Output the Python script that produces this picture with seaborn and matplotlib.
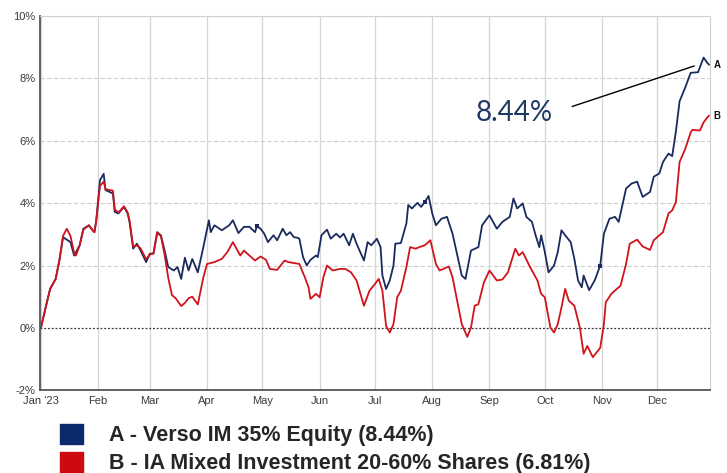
import numpy as np
import pandas as pd
import matplotlib
matplotlib.use("Agg")
import matplotlib.pyplot as plt
from matplotlib.patches import Patch
import seaborn as sns

# fund A (navy) - cumulative return in %
dates_a = ["01-01", "01-04", "01-06", "01-09", "01-11", "01-13", "01-17", "01-19", "01-22", "01-24",
           "01-27", "01-29", "01-30", "01-31", "02-02", "02-04", "02-05", "02-09", "02-10", "02-12",
           "02-15", "02-17", "02-18", "02-20", "02-22", "02-24", "02-27", "03-01", "03-03", "03-05",
           "03-07", "03-09", "03-11", "03-14", "03-16", "03-18", "03-20", "03-22", "03-24", "03-27",
           "03-30", "04-02", "04-03", "04-05", "04-09", "04-13", "04-15", "04-18", "04-21", "04-24",
           "04-27", "04-28", "04-30", "05-02", "05-04", "05-07", "05-09", "05-12", "05-14", "05-16",
           "05-18", "05-20", "05-21", "05-23", "05-25", "05-27", "05-30", "05-31", "06-02", "06-05",
           "06-07", "06-10", "06-12", "06-14", "06-17", "06-19", "06-21", "06-25", "06-27", "06-29",
           "07-02", "07-04", "07-05", "07-07", "07-09", "07-11", "07-12", "07-15", "07-18", "07-19",
           "07-21", "07-24", "07-26", "07-28", "07-30", "08-01", "08-03", "08-06", "08-09", "08-12",
           "08-17", "08-19", "08-22", "08-26", "08-28", "09-01", "09-05", "09-08", "09-12", "09-14",
           "09-16", "09-19", "09-21", "09-24", "09-26", "09-28", "09-29", "10-01", "10-03", "10-06",
           "10-08", "10-10", "10-12", "10-15", "10-17", "10-19", "10-21", "10-22", "10-25", "10-28",
           "10-31", "11-02", "11-03", "11-05", "11-08", "11-10", "11-14", "11-17", "11-20", "11-23",
           "11-27", "11-29", "12-02", "12-04", "12-07", "12-09", "12-11", "12-13", "12-16", "12-19",
           "12-23", "12-26", "12-28", "12-29"]
values_a = [0.00, 0.76, 1.25, 1.57, 2.16, 2.91, 2.75, 2.32, 2.65, 3.18,
            3.29, 3.13, 3.07, 3.45, 4.74, 4.94, 4.42, 4.31, 3.72, 3.67,
            3.88, 3.67, 3.40, 2.54, 2.70, 2.48, 2.11, 2.38, 2.38, 3.07,
            2.97, 2.48, 1.95, 1.84, 1.95, 1.57, 2.25, 1.84, 2.21, 1.78,
            2.59, 3.45, 3.07, 3.29, 3.13, 3.29, 3.45, 3.04, 3.24, 3.24,
            3.07, 3.26, 3.18, 3.02, 2.75, 2.97, 2.81, 3.18, 2.97, 3.07,
            2.91, 2.89, 2.86, 2.27, 2.00, 2.18, 2.32, 2.27, 2.97, 3.15,
            2.86, 3.02, 2.90, 3.02, 2.65, 3.02, 2.70, 2.16, 2.75, 2.65,
            2.86, 2.59, 1.68, 1.25, 1.52, 2.00, 2.70, 2.72, 3.35, 3.94,
            3.83, 4.01, 3.88, 4.04, 4.23, 3.67, 3.29, 3.50, 3.56, 3.02,
            1.68, 1.57, 2.48, 2.59, 3.29, 3.61, 3.18, 3.40, 3.56, 4.15,
            3.83, 3.99, 3.56, 3.40, 2.97, 2.59, 2.97, 2.43, 1.78, 2.00,
            2.43, 3.13, 2.97, 2.75, 2.21, 1.52, 1.30, 1.68, 1.21, 1.52,
            2.00, 3.02, 3.18, 3.50, 3.56, 3.40, 4.47, 4.63, 4.69, 4.20,
            4.36, 4.85, 4.95, 5.32, 5.59, 5.51, 6.30, 7.27, 7.70, 8.18,
            8.20, 8.67, 8.50, 8.44]
# small markers sitting on line A
marker_dates_a = ["04-28", "07-28", "10-31"]

# sector B (red)
dates_b = ["01-01", "01-04", "01-06", "01-09", "01-11", "01-13", "01-15", "01-17", "01-19", "01-20",
           "01-22", "01-24", "01-27", "01-29", "01-30", "01-31", "02-02", "02-04", "02-05", "02-09",
           "02-10", "02-12", "02-15", "02-17", "02-18", "02-20", "02-22", "02-24", "02-27", "03-01",
           "03-03", "03-05", "03-07", "03-09", "03-11", "03-13", "03-15", "03-18", "03-20", "03-22",
           "03-24", "03-27", "03-30", "04-01", "04-05", "04-09", "04-12", "04-15", "04-19", "04-21",
           "04-24", "04-27", "04-30", "05-03", "05-05", "05-09", "05-13", "05-15", "05-21", "05-24",
           "05-26", "05-27", "05-30", "06-01", "06-03", "06-05", "06-08", "06-12", "06-15", "06-18",
           "06-21", "06-25", "06-28", "07-01", "07-03", "07-05", "07-07", "07-09", "07-11", "07-13",
           "07-15", "07-18", "07-20", "07-23", "07-25", "07-28", "07-31", "08-03", "08-05", "08-07",
           "08-10", "08-12", "08-17", "08-20", "08-22", "08-24", "08-26", "08-29", "09-01", "09-05",
           "09-08", "09-11", "09-15", "09-17", "09-19", "09-23", "09-27", "09-29", "10-01", "10-04",
           "10-06", "10-08", "10-10", "10-12", "10-14", "10-17", "10-20", "10-22", "10-24", "10-27",
           "10-31", "11-02", "11-03", "11-06", "11-09", "11-11", "11-14", "11-16", "11-20", "11-23",
           "11-27", "11-29", "12-04", "12-07", "12-09", "12-11", "12-13", "12-16", "12-19", "12-20",
           "12-24", "12-26", "12-28", "12-29"]
values_b = [0.00, 0.76, 1.25, 1.57, 2.16, 2.95, 3.18, 2.95, 2.40, 2.32,
            2.65, 3.15, 3.29, 3.13, 3.07, 3.45, 4.55, 4.69, 4.45, 4.40,
            3.80, 3.70, 3.90, 3.70, 3.45, 2.60, 2.65, 2.55, 2.20, 2.35,
            2.40, 3.05, 2.95, 2.35, 1.60, 1.05, 0.95, 0.70, 0.80, 0.95,
            1.00, 0.75, 1.62, 2.05, 2.11, 2.21, 2.43, 2.75, 2.32, 2.48,
            2.32, 2.16, 2.29, 2.18, 1.89, 1.86, 2.16, 2.11, 2.05, 1.62,
            1.30, 0.93, 1.09, 0.98, 1.62, 2.00, 1.84, 1.89, 1.89, 1.78,
            1.52, 0.71, 1.19, 1.41, 1.57, 1.19, 0.06, -0.15, 0.12, 0.98,
            1.19, 1.95, 2.59, 2.54, 2.59, 2.65, 2.81, 2.05, 1.84, 1.89,
            1.97, 1.62, 0.12, -0.29, 0.01, 0.71, 0.76, 1.46, 1.84, 1.52,
            1.55, 1.78, 2.54, 2.32, 2.43, 1.95, 1.52, 1.09, 0.98, 0.01,
            -0.15, 0.12, 0.65, 1.25, 0.87, 0.71, 0.00, -0.83, -0.58, -0.94,
            -0.64, 0.12, 0.82, 1.09, 1.25, 1.35, 2.05, 2.70, 2.83, 2.61,
            2.50, 2.81, 3.07, 3.67, 3.77, 4.04, 5.32, 5.73, 6.27, 6.35,
            6.33, 6.59, 6.75, 6.81]

series_names = ["A - Verso IM 35% Equity (8.44%)",
                "B - IA Mixed Investment 20-60% Shares (6.81%)"]
series_tags = ["A", "B"]
month_labels = ["Jan '23", "Feb", "Mar", "Apr", "May", "Jun",
                "Jul", "Aug", "Sep", "Oct", "Nov", "Dec"]
y_ticks = [-2, 0, 2, 4, 6, 8, 10]
callout_text = "8.44%"

colors = ["#1b2a5e", "#d0141c"]
legend_colors = ["#0b2a6c", "#cc0a10"]

df = pd.concat([
    pd.DataFrame({"date": pd.to_datetime(["2023-" + d for d in dates_a]),
                  "value": values_a, "fund": series_tags[0]}),
    pd.DataFrame({"date": pd.to_datetime(["2023-" + d for d in dates_b]),
                  "value": values_b, "fund": series_tags[1]}),
], ignore_index=True)

sns.set_style("white")
plt.rcParams["font.family"] = ["Liberation Sans", "DejaVu Sans"]

fig = plt.figure(figsize=(7.27, 4.73), dpi=100)
ax = fig.add_axes([0.055, 0.175, 0.922, 0.791])

sns.lineplot(data=df, x="date", y="value", hue="fund", palette=colors,
             linewidth=1.3, legend=False, ax=ax)

mk = df[(df["fund"] == series_tags[0]) &
        df["date"].isin(pd.to_datetime(["2023-" + d for d in marker_dates_a]))]
sns.scatterplot(data=mk, x="date", y="value", color=colors[0], s=9,
                marker="s", linewidth=0, legend=False, ax=ax, zorder=3)

# axes
ax.set_xlim(pd.Timestamp("2022-12-31 12:00"), pd.Timestamp("2023-12-29 15:00"))
ax.set_ylim(-2, 10)
month_starts = pd.date_range("2023-01-01", periods=12, freq="MS")
ax.set_xticks(month_starts)
ax.set_xticklabels(month_labels)
ax.set_yticks(y_ticks)
ax.set_yticklabels([f"{v}%" for v in y_ticks])
ax.set_xlabel("")
ax.set_ylabel("")
ax.tick_params(axis="both", labelsize=8, colors="#3a3a3a", pad=1)
ax.tick_params(axis="x", length=3, color="#888888")
ax.tick_params(axis="y", length=0, pad=3)

for x in month_starts:
    ax.axvline(x, color="#d6d6d6", lw=0.9, zorder=0)
for v in y_ticks[2:]:
    ax.axhline(v, color="#cfcfcf", lw=0.8, ls=(0, (4, 2)), zorder=0)
ax.axhline(0, color="#333344", lw=0.9, ls=(0, (1.5, 1.5)), zorder=1)

for s in ["top", "right"]:
    ax.spines[s].set_color("#d0d0d0")
    ax.spines[s].set_linewidth(0.8)
for s in ["left", "bottom"]:
    ax.spines[s].set_color("#555555")
    ax.spines[s].set_linewidth(1.3)

# end labels A / B
for tag, d, v in [(series_tags[0], dates_a[-1], values_a[-1]),
                  (series_tags[1], dates_b[-1], values_b[-1])]:
    ax.annotate(tag, xy=(pd.Timestamp("2023-" + d), v), xytext=(3, 0),
                textcoords="offset points", fontsize=7, fontweight="bold",
                va="center", ha="left", color="#111111", annotation_clip=False)

# call-out
ax.text(0.707, 0.741, callout_text, transform=ax.transAxes, fontsize=20,
        color="#1f3864", ha="center", va="center", family="Lato")
ax.annotate("", xy=(0.980, 0.869), xytext=(0.790, 0.756),
            xycoords="axes fraction", textcoords="axes fraction",
            arrowprops=dict(arrowstyle="-", color="black", lw=1))

# legend underneath
handles = [Patch(facecolor=c, edgecolor=c) for c in legend_colors]
fig.legend(handles, series_names, loc="upper left",
           bbox_to_anchor=(0.083, 0.104), frameon=False,
           prop={"size": 15.5, "weight": "bold"}, handlelength=1.07,
           handleheight=1.1, handletextpad=1.2, labelspacing=0.25,
           borderpad=0, borderaxespad=0)

fig.savefig("out.png", dpi=100)
